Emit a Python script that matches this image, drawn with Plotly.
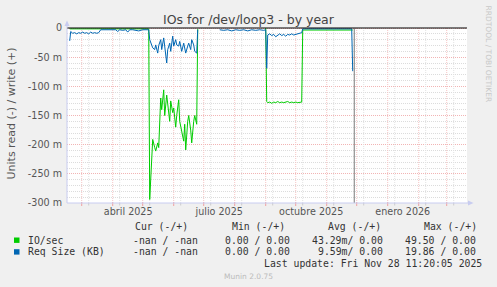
import plotly.graph_objects as go

# ---------------- data (values in milli-units, read side drawn negative) ----------------
dates = [
    "2025-02-17", "2025-02-18", "2025-02-20", "2025-02-22", "2025-02-24", "2025-02-26", "2025-02-28",
    "2025-03-02", "2025-03-04", "2025-03-06", "2025-03-08", "2025-03-10", "2025-03-12", "2025-03-14",
    "2025-03-16", "2025-03-18", "2025-03-20", "2025-03-23", "2025-03-26", "2025-03-29",
    "2025-04-01", "2025-04-04", "2025-04-06", "2025-04-08", "2025-04-11", "2025-04-14", "2025-04-16",
    "2025-04-18", "2025-04-21", "2025-04-24", "2025-04-27", "2025-05-01", "2025-05-04", "2025-05-07",
    "2025-05-08", "2025-05-10", "2025-05-11", "2025-05-13", "2025-05-14", "2025-05-16", "2025-05-17",
    "2025-05-19", "2025-05-20", "2025-05-22", "2025-05-23", "2025-05-25", "2025-05-26", "2025-05-28",
    "2025-05-29", "2025-05-31", "2025-06-01", "2025-06-03", "2025-06-04", "2025-06-06", "2025-06-07",
    "2025-06-09", "2025-06-11", "2025-06-12", "2025-06-13", "2025-06-15", "2025-06-16", "2025-06-18",
    "2025-06-19", "2025-06-21", "2025-06-22", "2025-06-24", "2025-06-25",
    "2025-07-01", "2025-07-17", "2025-07-21", "2025-07-25", "2025-07-29", "2025-08-02", "2025-08-06",
    "2025-08-10", "2025-08-14", "2025-08-18", "2025-08-22", "2025-08-26", "2025-08-30", "2025-09-01",
    "2025-09-02", "2025-09-03", "2025-09-05", "2025-09-07", "2025-09-09", "2025-09-11", "2025-09-13",
    "2025-09-15", "2025-09-17", "2025-09-19", "2025-09-21", "2025-09-23", "2025-09-25", "2025-09-27",
    "2025-09-29", "2025-10-01", "2025-10-03", "2025-10-05", "2025-10-07",
    "2025-10-08", "2025-10-16", "2025-10-24", "2025-11-01", "2025-11-09", "2025-11-17", "2025-11-26",
    "2025-11-27",
]

io_sec = (
    [-1.5] * 34
    + [-294, -210, -191, -205, -211, -197, -205, -120, -140, -106, -150, -115, -128, -160, -125, -145,
       -137, -170, -150, -123, -160, -175, -194, -165, -209, -160, -150, -175, -197, -160, -150, -165, -2]
    + [None] * 13 + [0]
    + [-126, -128, -127, -129, -127, -128, -126, -128, -127, -128, -127, -126, -128, -127, -128, -127,
       -128, -127, -127]
    + [-3.5] * 8
)

req_size = (
    [-22, -6, -9, -8, -10, -8, -9, -7, -9, -8, -10, -7, -9, -8, -9, -8, -3, -3, -4, -3, -4, -3, -6, -3,
     -4, -3, -7, -3, -3, -4, -5, -3, -3, -3]
    + [-20, -29, -34, -37, -29, -43, -30, -20, -37, -17, -31, -60, -37, -26, -40, -14, -31, -20, -29,
       -31, -23, -40, -26, -34, -43, -31, -26, -37, -20, -29, -40, -43, -3]
    + [None, -3, -4, -3, -5, -3, -4, -3, -5, -3, -4, -3, -4, -3]
    + [-69, -12, -10, -13, -11, -15, -12, -10, -13, -11, -14, -11, -12, -10, -12, -11, -10, -9, -8]
    + [-1.5, -1.5, -1.5, -1.5, -1.5, -1.5, -1.5, -74]
)

y_tickvals = [0, -50, -100, -150, -200, -250, -300]
y_ticktext = ["0", "-50 m", "-100 m", "-150 m", "-200 m", "-250 m", "-300 m"]
x_tickvals = ["2025-04-16T12:00", "2025-07-16T12:00", "2025-10-16T12:00", "2026-01-16T00:00"]
x_ticktext = ["abril 2025", "julio 2025", "octubre 2025", "enero 2026"]

legend_names = ["IO/sec", "Req Size (KB)"]
legend_cur = ["-nan / -nan", "-nan / -nan"]
legend_min = ["0.00 / 0.00", "0.00 / 0.00"]
legend_avg = ["43.29m/ 0.00", "9.59m/ 0.00"]
legend_max = ["49.50 / 0.00", "19.86 / 0.00"]
colors = ["#00CC00", "#0066B3"]

# ---------------- layout geometry ----------------
W, H = 497, 287
L, R, T, B = 67, 30, 26, 84
PW, PH = W - L - R, H - T - B
X_RANGE = ["2025-02-14T07:00", "2026-03-21T07:00"]
Y_RANGE = [-300, 3.43]


def xp(px):
    return (px - L) / PW


def yp(py):
    return (T + PH - py) / PH


fig = go.Figure()
fig.add_trace(go.Scatter(x=dates, y=io_sec, mode="lines", line=dict(color=colors[0], width=1),
                         connectgaps=False, showlegend=False, hoverinfo="skip"))
fig.add_trace(go.Scatter(x=dates, y=req_size, mode="lines", line=dict(color=colors[1], width=1),
                         connectgaps=False, showlegend=False, hoverinfo="skip"))

shapes = []
# grey strip above the zero line (outside the real graph area)
shapes.append(dict(type="rect", xref="paper", yref="y", x0=0, x1=1, y0=0, y1=Y_RANGE[1],
                   fillcolor="#F0F0F0", line=dict(width=0), layer="below"))

# vertical grid: month starts (major) and a minor line a week later
months = []
for i in range(13):
    y = 2025 + (2 + i) // 12
    m = (2 + i) % 12 + 1
    months.append((y, m))
for (yy, mm) in months:
    d = f"{yy}-{mm:02d}-01"
    dm = f"{yy}-{mm:02d}-08"
    shapes.append(dict(type="line", xref="x", yref="y", x0=dm, x1=dm, y0=-300, y1=0,
                       line=dict(color="#E2E2E2", width=1, dash="1px,1px"), layer="between"))
    shapes.append(dict(type="line", xref="x", yref="paper", x0=dm, x1=dm, y0=yp(203), y1=yp(205.5),
                       line=dict(color="#CCCCCC", width=1), layer="above"))
    shapes.append(dict(type="line", xref="x", yref="y", x0=d, x1=d, y0=-300, y1=0,
                       line=dict(color="#F5C4C4", width=1, dash="1px,1px"), layer="between"))
    shapes.append(dict(type="line", xref="x", yref="paper", x0=d, x1=d, y0=yp(202), y1=yp(206),
                       line=dict(color="#F0A0A0", width=1), layer="above"))

# last-update rule
shapes.append(dict(type="line", xref="x", yref="y", x0="2025-11-28T14:00", x1="2025-11-28T14:00",
                   y0=-300, y1=-1, line=dict(color="#909090", width=1.2), layer="above"))
# zero line
shapes.append(dict(type="line", xref="paper", yref="y", x0=0, x1=1, y0=0, y1=0,
                   line=dict(color="#000000", width=1), layer="above"))
# axes with arrows
axc = "#C8CCF0"
shapes.append(dict(type="line", xref="paper", yref="paper", x0=xp(67), x1=xp(67), y0=yp(203), y1=yp(24),
                   line=dict(color=axc, width=1), layer="above"))
shapes.append(dict(type="line", xref="paper", yref="paper", x0=xp(67), x1=xp(469), y0=yp(203), y1=yp(203),
                   line=dict(color=axc, width=1), layer="above"))
shapes.append(dict(type="path", xref="paper", yref="paper",
                   path=f"M {xp(64.5)} {yp(26)} L {xp(69.5)} {yp(26)} L {xp(67)} {yp(20.5)} Z",
                   fillcolor=axc, line=dict(width=0), layer="above"))
shapes.append(dict(type="path", xref="paper", yref="paper",
                   path=f"M {xp(468)} {yp(200.5)} L {xp(468)} {yp(205.5)} L {xp(473.5)} {yp(203)} Z",
                   fillcolor=axc, line=dict(width=0), layer="above"))
# legend colour boxes
for i, c in enumerate(colors):
    cy = 240.2 + i * 11.7
    shapes.append(dict(type="rect", xref="paper", yref="paper", x0=xp(14), x1=xp(19.5),
                       y0=yp(cy + 2.7), y1=yp(cy - 2.7), fillcolor=c, line=dict(width=0), layer="above"))

ann = []


def txt(px, py, s, size=9.8, color="#333333", family="DejaVu Sans Mono", xanchor="left", angle=0):
    ann.append(dict(x=xp(px), y=yp(py), xref="paper", yref="paper", text=s, showarrow=False,
                    xanchor=xanchor, yanchor="middle", textangle=angle, borderpad=0,
                    font=dict(family=family, size=size, color=color)))


txt(248.5, 19, "IOs for /dev/loop3 - by year", size=12.5, color="#444444", family="DejaVu Sans",
    xanchor="center")
txt(11, 113.5, "Units read (-) / write (+)", size=11, color="#555555", family="DejaVu Sans",
    xanchor="center", angle=-90)
txt(488, 53.5, "RRDTOOL / TOBI OETIKER", size=7.5, color="#C8C8C8", family="DejaVu Sans",
    xanchor="center", angle=90)

txt(134, 226.7, "Cur (-/+)")
txt(230.5, 226.7, "Min (-/+)")
txt(326.5, 226.7, "Avg (-/+)")
txt(422.5, 226.7, "Max (-/+)")
for i in range(2):
    yy = 240 + i * 11.7
    txt(26.7, yy, legend_names[i])
    txt(131.5, yy, legend_cur[i])
    txt(290.5, yy, legend_min[i], xanchor="right")
    txt(383.5, yy, legend_avg[i], xanchor="right")
    txt(477, yy, legend_max[i], xanchor="right")
txt(482.5, 263.3, "Last update: Fri Nov 28 11:20:05 2025", xanchor="right")
txt(248, 276.5, "Munin 2.0.75", size=7.5, color="#BBBBBB", family="DejaVu Sans", xanchor="center")

fig.update_layout(
    width=W, height=H, margin=dict(l=L, r=R, t=T, b=B, pad=0),
    paper_bgcolor="#F0F0F0", plot_bgcolor="#FFFFFF",
    shapes=shapes, annotations=ann, showlegend=False,
    xaxis=dict(type="date", range=X_RANGE, showgrid=False, zeroline=False, showline=False,
               tickvals=x_tickvals, ticktext=x_ticktext, ticks="", ticklabelstandoff=1,
               tickfont=dict(family="DejaVu Sans", size=9.6, color="#555555"), fixedrange=True),
    yaxis=dict(range=Y_RANGE, tickvals=y_tickvals, ticktext=y_ticktext, zeroline=False, showline=False,
               showgrid=True, gridcolor="#F2B4B4", griddash="1px,1px", gridwidth=1,
               ticks="", ticklabelstandoff=4,
               tickfont=dict(family="DejaVu Sans", size=9.6, color="#555555"),
               minor=dict(dtick=10, tick0=0, showgrid=True, gridcolor="#DCDCDC", griddash="1px,1px",
                          gridwidth=1),
               fixedrange=True),
)

fig.write_html("out.html")
